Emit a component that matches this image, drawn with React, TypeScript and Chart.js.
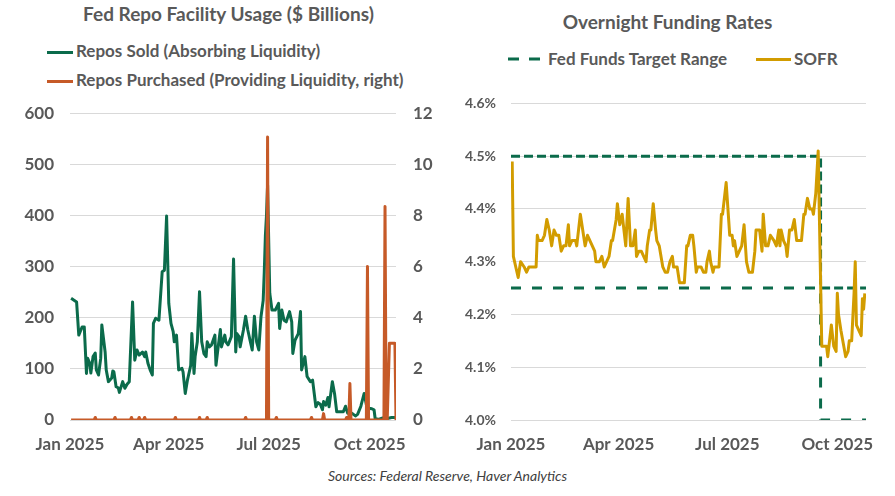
import React, { useEffect, useRef } from "react";
import { Chart, registerables } from "chart.js";

Chart.register(...registerables);

// ---- shared x-axis (days since Jan 1, 2025) ----
const tickDays = [0, 90, 181, 273];
const tickLabels = ["Jan 2025", "Apr 2025", "Jul 2025", "Oct 2025"];
const lastDay = 297;

// ---- left chart: Fed repo facility usage ----
const soldDays = [1, 6, 8, 11, 13, 15, 16, 18, 19, 21, 23, 24, 26, 28, 29, 32, 33, 35, 38, 39, 40, 42, 44, 45, 48, 50, 52, 54, 57, 59, 61, 63, 66, 68, 69, 71, 73, 75, 76, 78, 81, 84, 86, 88, 90, 92, 94, 95, 97, 98, 99, 102, 103, 105, 107, 110, 111, 113, 114, 116, 118, 120, 122, 124, 125, 127, 129, 132, 133, 135, 137, 138, 141, 142, 144, 147, 149, 151, 152, 154, 155, 158, 160, 162, 164, 166, 168, 170, 172, 174, 176, 177, 178, 179, 180, 182, 184, 187, 190, 191, 193, 195, 197, 200, 202, 203, 205, 208, 210, 211, 214, 216, 219, 221, 224, 226, 228, 230, 231, 233, 235, 236, 239, 241, 243, 246, 249, 251, 253, 257, 260, 262, 265, 267, 268, 270, 272, 275, 277, 278, 281, 285, 289, 293, 297];
const soldValues = [238, 231, 166, 182, 182, 91, 121, 111, 92, 124, 131, 98, 88, 121, 186, 133, 98, 75, 82, 96, 94, 65, 63, 54, 75, 62, 70, 75, 231, 117, 137, 127, 133, 124, 133, 111, 98, 88, 189, 199, 195, 290, 293, 399, 228, 189, 173, 153, 166, 133, 98, 101, 94, 52, 78, 107, 169, 91, 124, 153, 251, 153, 130, 124, 153, 143, 147, 166, 107, 143, 177, 143, 166, 153, 147, 163, 315, 133, 169, 163, 143, 176, 203, 176, 156, 137, 203, 153, 137, 202, 234, 290, 360, 400, 460, 248, 215, 215, 228, 179, 215, 195, 192, 212, 192, 130, 156, 169, 212, 98, 124, 85, 75, 78, 26, 34, 31, 20, 36, 29, 44, 26, 75, 52, 16, 16, 16, 27, 13, 13, 8, 11, 27, 44, 52, 30, 23, 22, 20, 3, 1, 4, 3, 5, 5];

const purchasedDays = [1, 22, 23, 24, 40, 41, 42, 55, 56, 57, 62, 63, 64, 67, 68, 69, 95, 96, 97, 117, 118, 119, 124, 125, 126, 159, 160, 161, 179, 180, 181, 187, 188, 189, 219, 220, 221, 230, 231, 232, 251, 252, 253, 254, 255, 256, 270, 271, 272, 286, 287, 288, 289, 291, 296, 297];
const purchasedValues = [0, 0, 0.1, 0, 0, 0.1, 0, 0, 0.1, 0, 0, 0.1, 0, 0, 0.1, 0, 0, 0.1, 0, 0, 0.1, 0, 0, 0.1, 0, 0, 0.1, 0, 0, 11.07, 0, 0, 0.1, 0, 0, 0.1, 0, 0, 0.25, 0, 0, 0.1, 0, 0, 1.43, 0, 0, 6.0, 0, 0, 8.35, 0, 0, 3.0, 3.0, 0];

// ---- right chart: overnight funding rates ----
const sofrDays = [1, 2, 4, 6, 8, 11, 13, 15, 17, 21, 22, 23, 26, 28, 30, 32, 34, 36, 38, 40, 42, 44, 46, 48, 49, 51, 54, 55, 58, 60, 62, 64, 66, 68, 70, 71, 74, 76, 78, 80, 82, 84, 85, 88, 89, 91, 93, 95, 96, 98, 100, 102, 104, 105, 107, 109, 111, 113, 114, 116, 117, 119, 121, 122, 124, 127, 129, 131, 133, 135, 136, 137, 139, 141, 143, 145, 147, 148, 150, 152, 153, 155, 156, 159, 161, 163, 164, 166, 167, 169, 170, 172, 174, 176, 177, 178, 180, 183, 185, 186, 187, 189, 191, 193, 195, 197, 199, 202, 204, 205, 208, 210, 211, 213, 215, 217, 220, 222, 224, 225, 226, 228, 230, 231, 233, 235, 237, 239, 241, 243, 245, 246, 248, 250, 252, 253, 255, 256, 257, 258, 260, 264, 265, 268, 270, 272, 273, 274, 276, 278, 280, 282, 283, 285, 287, 288, 289, 291, 293, 294, 295, 296];
const sofrValues = [4.49, 4.31, 4.29, 4.27, 4.30, 4.29, 4.28, 4.29, 4.29, 4.29, 4.35, 4.34, 4.34, 4.35, 4.38, 4.36, 4.33, 4.36, 4.35, 4.35, 4.32, 4.33, 4.33, 4.37, 4.33, 4.34, 4.34, 4.33, 4.39, 4.36, 4.33, 4.35, 4.34, 4.33, 4.32, 4.30, 4.30, 4.31, 4.29, 4.30, 4.31, 4.34, 4.34, 4.38, 4.41, 4.37, 4.39, 4.35, 4.33, 4.42, 4.33, 4.33, 4.36, 4.31, 4.32, 4.32, 4.31, 4.30, 4.33, 4.36, 4.36, 4.41, 4.36, 4.34, 4.33, 4.29, 4.28, 4.28, 4.30, 4.31, 4.29, 4.29, 4.29, 4.26, 4.26, 4.26, 4.33, 4.33, 4.35, 4.35, 4.33, 4.28, 4.29, 4.29, 4.28, 4.28, 4.30, 4.32, 4.30, 4.28, 4.29, 4.29, 4.29, 4.39, 4.39, 4.41, 4.45, 4.35, 4.35, 4.33, 4.34, 4.31, 4.32, 4.33, 4.37, 4.30, 4.28, 4.28, 4.32, 4.36, 4.36, 4.32, 4.39, 4.33, 4.33, 4.35, 4.34, 4.33, 4.36, 4.33, 4.36, 4.34, 4.33, 4.31, 4.36, 4.36, 4.38, 4.34, 4.34, 4.34, 4.39, 4.39, 4.42, 4.40, 4.40, 4.39, 4.43, 4.47, 4.51, 4.385, 4.14, 4.14, 4.12, 4.18, 4.14, 4.13, 4.24, 4.20, 4.17, 4.145, 4.12, 4.13, 4.15, 4.15, 4.24, 4.30, 4.18, 4.17, 4.16, 4.23, 4.21, 4.24];

const rangeDays = [0, 259, 259, 297];
const upperRange = [4.5, 4.5, 4.25, 4.25];
const lowerRange = [4.25, 4.25, 4.0, 4.0];

const GREEN = "#0B6B4B";
const ORANGE = "#C65A28";
const GOLD = "#D29C00";
const TEXT = "#595959";
const GRID = "#D9D9D9";
const FAMILY = "Lato, 'Open Sans', sans-serif";

const pts = (xs: number[], ys: number[]) => xs.map((x, i) => ({ x, y: ys[i] }));

function xScale() {
  return {
    type: "linear" as const,
    min: 0,
    max: lastDay,
    afterBuildTicks: (ax: any) => {
      ax.ticks = tickDays.map((v) => ({ value: v }));
    },
    afterFit: (s: any) => {
      s.height = 40;
    },
    ticks: {
      autoSkip: false,
      maxRotation: 0,
      padding: 14,
      color: TEXT,
      font: { family: FAMILY, size: 17, weight: "bold" as const },
      callback: (v: any) => {
        const i = tickDays.indexOf(Number(v));
        return i >= 0 ? tickLabels[i] : "";
      },
    },
    grid: { display: false, drawTicks: false },
    border: { display: false },
  };
}

function LeftChart() {
  const ref = useRef<HTMLCanvasElement | null>(null);
  useEffect(() => {
    if (!ref.current) return;
    const chart = new Chart(ref.current, {
      type: "line",
      data: {
        datasets: [
          {
            label: "Repos Sold (Absorbing Liquidity)",
            data: pts(soldDays, soldValues),
            borderColor: GREEN,
            borderWidth: 3,
            pointRadius: 0,
            borderJoinStyle: "round",
            yAxisID: "y",
            order: 2,
          },
          {
            label: "Repos Purchased (Providing Liquidity, right)",
            data: pts(purchasedDays, purchasedValues),
            borderColor: ORANGE,
            borderWidth: 3,
            pointRadius: 0,
            borderJoinStyle: "round",
            yAxisID: "y1",
            order: 1,
          },
        ],
      },
      options: {
        animation: false,
        responsive: false,
        maintainAspectRatio: false,
        layout: { padding: 0 },
        plugins: { legend: { display: false }, tooltip: { enabled: false }, title: { display: false } },
        scales: {
          x: xScale(),
          y: {
            position: "left",
            min: 0,
            max: 600,
            afterFit: (s: any) => {
              s.width = 70;
            },
            ticks: { stepSize: 100, padding: 16, color: TEXT, font: { family: FAMILY, size: 17, weight: "bold" } },
            grid: { color: GRID, lineWidth: 1, drawTicks: false },
            border: { display: false },
          },
          y1: {
            position: "right",
            min: 0,
            max: 12,
            afterFit: (s: any) => {
              s.width = 49;
            },
            ticks: { stepSize: 2, padding: 17, color: TEXT, font: { family: FAMILY, size: 17, weight: "bold" } },
            grid: { display: false, drawTicks: false },
            border: { display: false },
          },
        },
      },
    } as any);
    return () => chart.destroy();
  }, []);
  return (
    <canvas
      ref={ref}
      width={445}
      height={374}
      style={{ position: "absolute", left: 0, top: 86, width: 445, height: 374 }}
    />
  );
}

function RightChart() {
  const ref = useRef<HTMLCanvasElement | null>(null);
  useEffect(() => {
    if (!ref.current) return;
    const chart = new Chart(ref.current, {
      type: "line",
      data: {
        datasets: [
          {
            label: "SOFR",
            data: pts(sofrDays, sofrValues),
            borderColor: GOLD,
            borderWidth: 3,
            pointRadius: 0,
            borderJoinStyle: "round",
            order: 1,
          },
          {
            label: "Fed Funds Target Range (upper)",
            data: pts(rangeDays, upperRange),
            borderColor: GREEN,
            borderWidth: 3,
            borderDash: [9, 4],
            pointRadius: 0,
            order: 2,
          },
          {
            label: "Fed Funds Target Range (lower)",
            data: pts(rangeDays, lowerRange),
            borderColor: GREEN,
            borderWidth: 3,
            borderDash: [10, 11],
            pointRadius: 0,
            order: 3,
          },
        ],
      },
      options: {
        animation: false,
        responsive: false,
        maintainAspectRatio: false,
        layout: { padding: { top: 0, left: 0, right: 29, bottom: 0 } },
        plugins: { legend: { display: false }, tooltip: { enabled: false }, title: { display: false } },
        scales: {
          x: xScale(),
          y: {
            position: "left",
            min: 4.0,
            max: 4.6,
            afterFit: (s: any) => {
              s.width = 66;
            },
            ticks: {
              stepSize: 0.1,
              padding: 15,
              color: TEXT,
              font: { family: FAMILY, size: 14, weight: "bold" },
              callback: (v: any) => Number(v).toFixed(1) + "%",
            },
            grid: { color: GRID, lineWidth: 1, drawTicks: false },
            border: { display: false },
          },
        },
      },
    } as any);
    return () => chart.destroy();
  }, []);
  return (
    <canvas
      ref={ref}
      width={450}
      height={380}
      style={{ position: "absolute", left: 445, top: 80, width: 450, height: 380 }}
    />
  );
}

const textBase: React.CSSProperties = {
  position: "absolute",
  fontFamily: FAMILY,
  fontWeight: 700,
  color: TEXT,
  whiteSpace: "nowrap",
};

export default function App() {
  return (
    <div
      style={{
        position: "fixed",
        left: 0,
        top: 0,
        width: 895,
        height: 496,
        background: "#ffffff",
        overflow: "hidden",
      }}
    >
      {/* Left title + legend */}
      <div style={{ ...textBase, left: 0, width: 457, top: 4, fontSize: 19, lineHeight: "20px", textAlign: "center" }}>
        Fed Repo Facility Usage ($ Billions)
      </div>
      <div style={{ position: "absolute", left: 47, top: 51, width: 26, height: 3, background: GREEN }} />
      <div style={{ ...textBase, left: 76, top: 41, fontSize: 17, lineHeight: "20px" }}>Repos Sold (Absorbing Liquidity)</div>
      <div style={{ position: "absolute", left: 47, top: 80, width: 26, height: 3, background: ORANGE }} />
      <div style={{ ...textBase, left: 76, top: 70, fontSize: 17, lineHeight: "20px" }}>
        Repos Purchased (Providing Liquidity, right)
      </div>

      {/* Right title + legend */}
      <div style={{ ...textBase, left: 445, width: 445, top: 12, fontSize: 19, lineHeight: "20px", textAlign: "center" }}>
        Overnight Funding Rates
      </div>
      <svg style={{ position: "absolute", left: 508, top: 57 }} width={33} height={4}>
        <line x1={0} y1={2} x2={33} y2={2} stroke={GREEN} strokeWidth={3} strokeDasharray="11 10" />
      </svg>
      <div style={{ ...textBase, left: 548, top: 49, fontSize: 17, lineHeight: "20px" }}>Fed Funds Target Range</div>
      <div style={{ position: "absolute", left: 756, top: 58, width: 35, height: 3, background: GOLD }} />
      <div style={{ ...textBase, left: 794, top: 49, fontSize: 17, lineHeight: "20px" }}>SOFR</div>

      <LeftChart />
      <RightChart />

      <div
        style={{
          ...textBase,
          left: 0,
          width: 895,
          top: 467,
          fontSize: 14,
          lineHeight: "17px",
          fontWeight: 400,
          fontStyle: "italic",
          color: "#404040",
          textAlign: "center",
        }}
      >
        Sources: Federal Reserve, Haver Analytics
      </div>
    </div>
  );
}
